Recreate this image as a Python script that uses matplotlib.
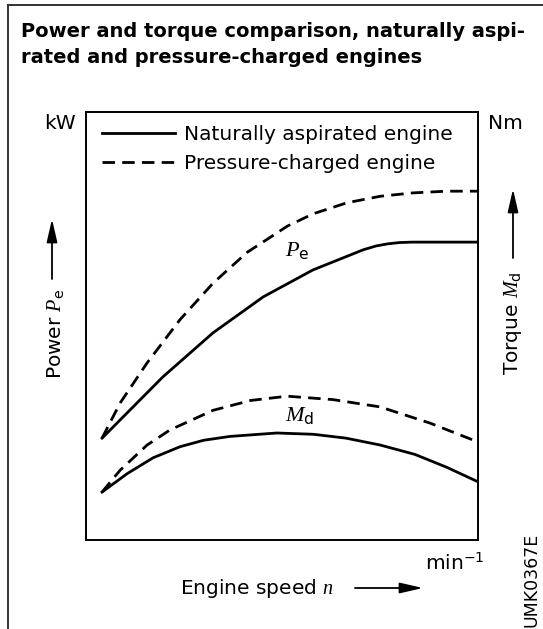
import matplotlib
matplotlib.use("Agg")
import matplotlib.pyplot as plt
from matplotlib.lines import Line2D
from matplotlib.patches import FancyArrowPatch

plt.rcParams["font.family"] = ["DejaVu Sans"]
plt.rcParams["mathtext.fontset"] = "custom"
plt.rcParams["mathtext.it"] = "Liberation Serif:italic"
plt.rcParams["mathtext.rm"] = "DejaVu Sans"

W, H = 543, 629

# normalised engine speed / output curves (arbitrary units, 0..1 of the frame)
speed_power_turbo = [0.041, 0.087, 0.156, 0.240, 0.324, 0.411, 0.513, 0.579, 0.666, 0.750, 0.834, 0.920, 1.0]
power_turbo = [0.238, 0.320, 0.414, 0.515, 0.600, 0.672, 0.733, 0.762, 0.788, 0.803, 0.811, 0.815, 0.815]

speed_power_na = [0.041, 0.196, 0.324, 0.452, 0.579, 0.707, 0.740, 0.770, 0.800, 0.834, 1.0]
power_na = [0.238, 0.381, 0.484, 0.568, 0.631, 0.678, 0.687, 0.692, 0.695, 0.696, 0.696]

speed_torque_turbo = [0.041, 0.087, 0.156, 0.214, 0.324, 0.420, 0.513, 0.630, 0.750, 0.878, 1.0]
torque_turbo = [0.112, 0.163, 0.222, 0.257, 0.303, 0.326, 0.336, 0.328, 0.311, 0.273, 0.229]

speed_torque_na = [0.041, 0.105, 0.171, 0.240, 0.300, 0.367, 0.487, 0.580, 0.663, 0.750, 0.839, 0.920, 1.0]
torque_na = [0.112, 0.155, 0.192, 0.218, 0.233, 0.242, 0.250, 0.247, 0.238, 0.222, 0.200, 0.170, 0.136]

labels = ["Naturally aspirated engine", "Pressure-charged engine"]

LW = 2.0
DASH = (4.5, 2.6)
FS = 14.5


def fx(px):
    return px / W


def fy(py):
    return 1 - py / H


def arrow(p0, p1):
    fig.add_artist(FancyArrowPatch((fx(p0[0]), fy(p0[1])), (fx(p1[0]), fy(p1[1])),
                                   transform=fig.transFigure, color="black", lw=1.3,
                                   arrowstyle="-|>,head_length=1.4,head_width=0.32",
                                   mutation_scale=10, shrinkA=0, shrinkB=0))


fig = plt.figure(figsize=(W / 100, H / 100), dpi=100)

# partial outer frame (left and top edges)
fig.add_artist(Line2D([fx(8), fx(8)], [fy(5), 0], transform=fig.transFigure, color="#333333", lw=1.4))
fig.add_artist(Line2D([fx(8), 1], [fy(5), fy(5)], transform=fig.transFigure, color="#333333", lw=1.4))

fig.text(fx(21), fy(37), "Power and torque comparison, naturally aspi-",
         fontsize=14, fontweight="bold", va="baseline")
fig.text(fx(21), fy(63), "rated and pressure-charged engines",
         fontsize=14, fontweight="bold", va="baseline")

ax = fig.add_axes([fx(86), fy(540), (478 - 86) / W, (540 - 112) / H])
ax.plot(speed_power_na, power_na, color="black", lw=LW, label=labels[0])
ax.plot(speed_power_turbo, power_turbo, color="black", lw=LW, dashes=DASH, label=labels[1])
ax.plot(speed_torque_na, torque_na, color="black", lw=LW)
ax.plot(speed_torque_turbo, torque_turbo, color="black", lw=LW, dashes=DASH)
ax.set_xlim(0, 1)
ax.set_ylim(0, 1)
ax.set_xticks([])
ax.set_yticks([])
for s in ax.spines.values():
    s.set_linewidth(1.4)

ax.legend(loc="upper left", bbox_to_anchor=(0.01, 0.998), frameon=False, fontsize=FS,
          handlelength=3.6, handletextpad=0.45, labelspacing=0.5, borderaxespad=0.2)

# curve names inside the plot
ax.text((285 - 86) / 392, (540 - 256) / 428, r"$P_\mathrm{e}$", fontsize=16, va="baseline")
ax.text((285 - 86) / 392, (540 - 421) / 428, r"$M_\mathrm{d}$", fontsize=16, va="baseline")

# unit labels
fig.text(fx(44), fy(129), "kW", fontsize=FS, va="baseline")
fig.text(fx(488), fy(129), "Nm", fontsize=FS, va="baseline")
fig.text(fx(425), fy(570), r"min$^{-1}$", fontsize=FS, va="baseline")

# axis captions with arrows
fig.text(fx(55), fy(334), r"Power $P_\mathrm{e}$", fontsize=FS, rotation=90, ha="center", va="center")
arrow((52, 279), (52, 219))
fig.text(fx(513), fy(323), r"Torque $M_\mathrm{d}$", fontsize=FS, rotation=90, ha="center", va="center")
arrow((513, 258), (513, 189))
fig.text(fx(180), fy(594), r"Engine speed $n$", fontsize=FS, va="baseline")
arrow((355, 588), (423, 588))

fig.text(fx(531), fy(580), "UMK0367E", fontsize=12.5, rotation=90, ha="center", va="center")

fig.savefig("out.png", dpi=100)
